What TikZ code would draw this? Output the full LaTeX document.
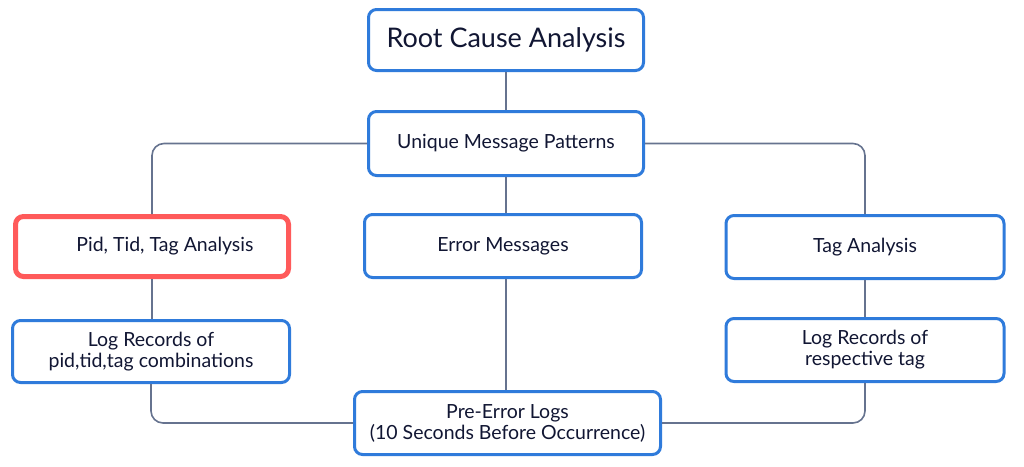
\documentclass[tikz,border=0pt]{standalone}
\usepackage{fontspec}
\setmainfont{Lato}
\definecolor{bblue}{HTML}{2F7BDB}
\definecolor{rred}{HTML}{FF5A5A}
\definecolor{lgray}{HTML}{66738F}
\definecolor{ink}{HTML}{111633}
\begin{document}
\begin{tikzpicture}[x=1pt,y=-1pt,
  box/.style={draw=bblue, line width=3pt, rounded corners=8pt, fill=white,
    text=ink, align=center, inner sep=0pt, font=\fontsize{19.5}{21}\selectfont},
  redbox/.style={box, draw=rred, line width=5pt},
  conn/.style={draw=lgray, line width=1.6pt, rounded corners=12pt}]
\useasboundingbox (0,0) rectangle (1024,466);
\node[box, minimum width=275pt, minimum height=61pt, font=\fontsize{27}{30}\selectfont] (root) at (506,40) {Root Cause Analysis};
\node[box, minimum width=275pt, minimum height=64pt] (uniq) at (506,143.5) {Unique Message Patterns};
\node[redbox, minimum width=273pt, minimum height=60pt] (pid) at (152,246.5) {\hspace{26pt}Pid, Tid, Tag Analysis};
\node[box, minimum width=277pt, minimum height=63pt] (err) at (503,246) {Error Messages};
\node[box, minimum width=278pt, minimum height=63pt] (tag) at (865,247) {\raisebox{3pt}{Tag Analysis}};
\node[box, minimum width=278pt, minimum height=63pt] (logr) at (865,350) {Log Records of\\respective tag};
\node[box, minimum width=277pt, minimum height=62pt] (logl) at (151,351.5) {Log Records of\\pid,tid,tag combinations};
\node[box, minimum width=306pt, minimum height=63pt] (pre) at (507.5,423) {Pre-Error Logs\\(10 Seconds Before Occurrence)};
\draw[conn] (root.south) -- (uniq.north);
\draw[conn] (uniq.west) -| (pid.north);
\draw[conn] (uniq.east) -| (tag.north);
\draw[conn] (uniq.south) -- (uniq.south |- err.north);
\draw[conn] (pid.south) -- (pid.south |- logl.north);
\draw[conn] (tag.south) -- (logr.north);
\draw[conn] (logl.south) |- (pre.west);
\draw[conn] (logr.south) |- (pre.east);
\draw[conn] (err.south -| uniq.south) -- (uniq.south |- pre.north);
\end{tikzpicture}
\end{document}
